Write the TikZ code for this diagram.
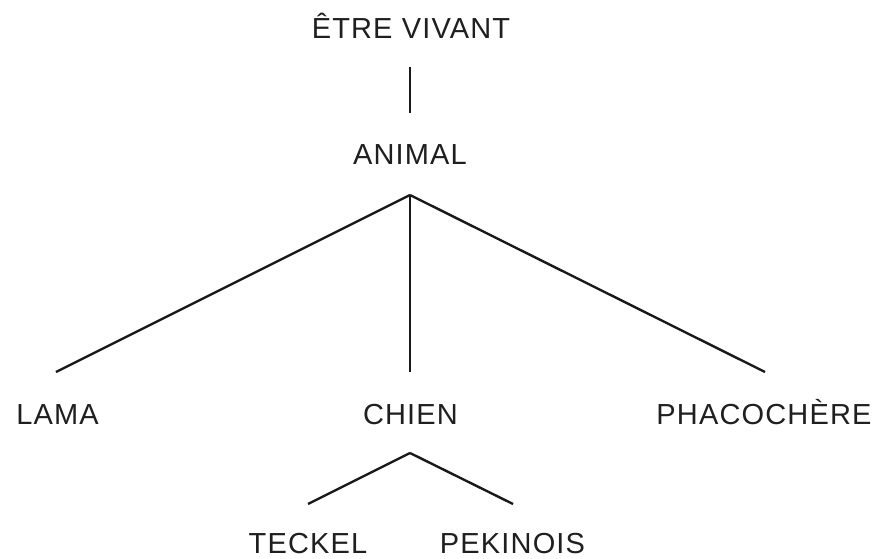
\documentclass[tikz,border=0pt]{standalone}
\usepackage{fontspec}
\setmainfont[LetterSpace=4]{Liberation Sans}
\begin{document}
\begin{tikzpicture}[x=1pt,y=1pt,
  lbl/.style={anchor=base,inner sep=0pt,text=black!88,font=\fontsize{29}{34}\selectfont},
  edge/.style={line width=2.4pt,draw=black!90}]
\useasboundingbox (0,0) rectangle (875,558);
\node[lbl] (etre) at (411,519) {ÊTRE VIVANT};
\node[lbl] (animal) at (410,393) {ANIMAL};
\node[lbl] (lama) at (57.5,134) {LAMA};
\node[lbl] (chien) at (410.5,134) {CHIEN};
\node[lbl] (phaco) at (764,134) {PHACOCHÈRE};
\node[lbl] (teckel) at (308,5) {TECKEL};
\node[lbl] (pekinois) at (512.5,5) {PEKINOIS};
\coordinate (e1) at (410,491);
\coordinate (a0) at (410,445);
\coordinate (a1) at (410,363);
\coordinate (l0) at (56,186);
\coordinate (c0) at (410,186);
\coordinate (p0) at (765,186);
\coordinate (c1) at (410,105);
\coordinate (t0) at (308,54);
\coordinate (k0) at (513,54);
\draw[edge] (e1) -- (a0);
\draw[edge] (a1) -- (l0);
\draw[edge] (a1) -- (c0);
\draw[edge] (a1) -- (p0);
\draw[edge] (c1) -- (t0);
\draw[edge] (c1) -- (k0);
\end{tikzpicture}
\end{document}
